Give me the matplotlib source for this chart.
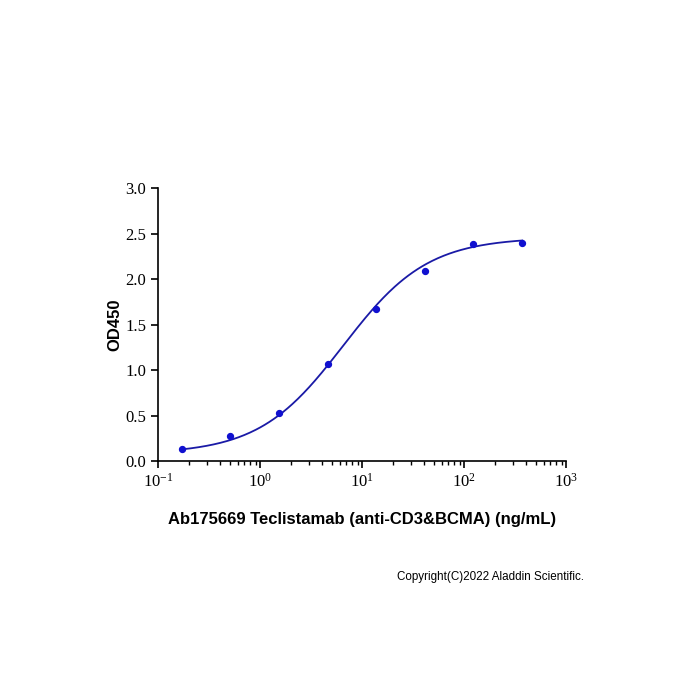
import numpy as np
import matplotlib
matplotlib.use("Agg")
import matplotlib.pyplot as plt
from matplotlib.ticker import LogLocator, NullFormatter

conc = [0.17, 0.51, 1.52, 4.57, 13.7, 41.2, 123, 370]
od = [0.14, 0.28, 0.53, 1.07, 1.67, 2.09, 2.39, 2.40]
# 4PL fit parameters
bottom, top, ec50, hill = 0.08, 2.46, 6.5, 1.05

fig = plt.figure(figsize=(7, 7), dpi=100)
ax = fig.add_axes([0.226, 0.341, 0.583, 0.39])
xs = np.logspace(np.log10(0.17), np.log10(370), 300)
ys = bottom + (top - bottom) / (1 + (ec50 / xs) ** hill)
ax.plot(xs, ys, color="#1a1aa6", lw=1.3)
ax.scatter(conc, od, color="#1010d0", s=18, zorder=3)
ax.set_xscale("log")
ax.set_xlim(0.1, 1000)
ax.set_ylim(0, 3.0)
ax.set_yticks([0, 0.5, 1, 1.5, 2, 2.5, 3])
ax.set_yticklabels(["0.0", "0.5", "1.0", "1.5", "2.0", "2.5", "3.0"])
ax.xaxis.set_minor_locator(LogLocator(base=10, subs=np.arange(2, 10)))
ax.xaxis.set_minor_formatter(NullFormatter())
for s in ["top", "right"]:
    ax.spines[s].set_visible(False)
for s in ["left", "bottom"]:
    ax.spines[s].set_linewidth(1.2)
ax.tick_params(labelsize=12, width=1.2, length=5)
ax.tick_params(which="minor", length=3, width=1)
for lab in ax.get_xticklabels() + ax.get_yticklabels():
    lab.set_family("Liberation Serif")
ax.set_ylabel("OD450", fontsize=12, fontweight="bold", family="Liberation Sans", labelpad=2)
ax.set_xlabel("Ab175669 Teclistamab (anti-CD3&BCMA) (ng/mL)", fontsize=12,
              fontweight="bold", family="Liberation Sans", labelpad=15)
fig.text(0.567, 0.171, "Copyright(C)2022 Aladdin Scientific.", fontsize=8.4,
         family="Liberation Sans")
fig.savefig("out.png")
